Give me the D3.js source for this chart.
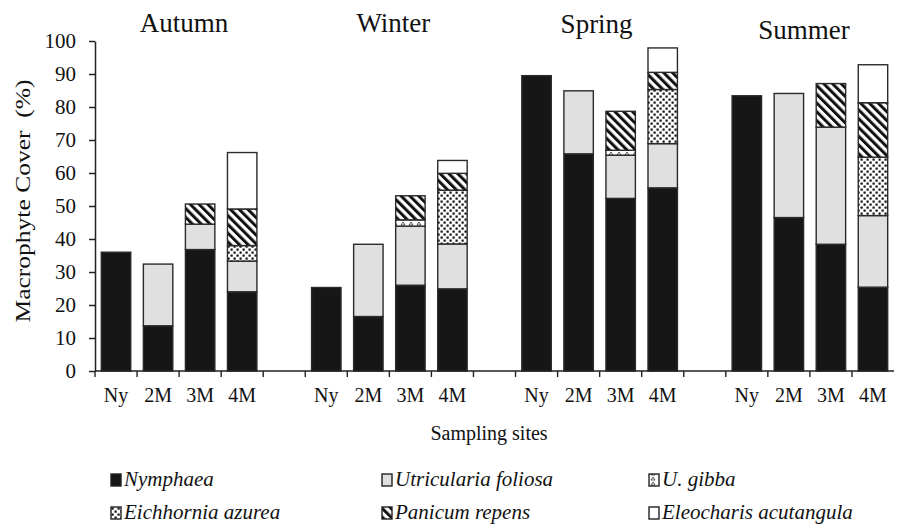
<!DOCTYPE html>
<html>
<head>
<meta charset="utf-8">
<script src="https://cdn.jsdelivr.net/npm/d3@7"></script>
<style>
  body { margin: 0; background: #fff; }
  text { font-family: "Liberation Serif", "Times New Roman", serif; fill: #111; }
</style>
</head>
<body>
<svg class="chart-frame"></svg>
<script>
// seasons and sampling sites; an empty slot separates each season
const seasons = ["Autumn", "Winter", "Spring", "Summer"];
const sites = ["Ny", "2M", "3M", "4M"];
const yTicks = [0, 10, 20, 30, 40, 50, 60, 70, 80, 90, 100];

// cover (%) per bar, order: Autumn Ny..4M, Winter Ny..4M, Spring Ny..4M, Summer Ny..4M
const nymphaea    = [36.0, 13.7, 36.8, 24.0, 25.3, 16.5, 26.0, 24.9, 89.5, 65.8, 52.3, 55.5, 83.4, 46.5, 38.4, 25.4];
const uFoliosa    = [0, 18.7, 7.7, 9.3, 0, 21.9, 17.9, 13.6, 0, 19.1, 13.1, 13.4, 0, 37.6, 35.5, 21.7];
const uGibba      = [0, 0, 0, 0, 0, 0, 1.9, 0, 0, 0, 1.5, 0, 0, 0, 0, 0];
const eichhornia  = [0, 0, 0, 4.7, 0, 0, 0, 16.3, 0, 0, 0, 16.4, 0, 0, 0, 17.7];
const panicum     = [0, 0, 6.1, 11.1, 0, 0, 7.3, 5.1, 0, 0, 11.8, 5.2, 0, 0, 13.2, 16.5];
const eleocharis  = [0, 0, 0, 17.1, 0, 0, 0, 3.9, 0, 0, 0, 7.4, 0, 0, 0, 11.5];

const speciesNames = ["Nymphaea", "Utricularia foliosa", "U. gibba", "Eichhornia azurea", "Panicum repens", "Eleocharis acutangula"];
const speciesKeys = ["nym", "ufo", "ugi", "eic", "pan", "ele"];
const speciesValues = [nymphaea, uFoliosa, uGibba, eichhornia, panicum, eleocharis];

const serif = '"Liberation Serif", "Times New Roman", serif';
const width = 897, height = 528;
const margin = {top: 41, right: 3, bottom: 157, left: 95};
const innerW = width - margin.left - margin.right;
const innerH = height - margin.top - margin.bottom;

const svg = d3.select(".chart-frame")
  .attr("width", width)
  .attr("height", height);

// fill patterns
const defs = svg.append("defs");
const stripes = defs.append("pattern")
  .attr("id", "pat-pan")
  .attr("patternUnits", "userSpaceOnUse")
  .attr("width", 6.2).attr("height", 6.2)
  .attr("patternTransform", "rotate(-45)");
stripes.append("rect").attr("width", 6.2).attr("height", 6.2).attr("fill", "#fff");
stripes.append("rect").attr("width", 3).attr("height", 6.2).attr("fill", "#111");

const dots = defs.append("pattern")
  .attr("id", "pat-eic")
  .attr("patternUnits", "userSpaceOnUse")
  .attr("width", 6).attr("height", 6);
dots.append("rect").attr("width", 6).attr("height", 6).attr("fill", "#fff");
dots.append("rect").attr("x", 0.5).attr("y", 0.5).attr("width", 2.2).attr("height", 2.2).attr("fill", "#111");
dots.append("rect").attr("x", 3.5).attr("y", 3.5).attr("width", 2.2).attr("height", 2.2).attr("fill", "#111");

const tri = defs.append("pattern")
  .attr("id", "pat-ugi")
  .attr("patternUnits", "userSpaceOnUse")
  .attr("width", 8).attr("height", 5);
tri.append("rect").attr("width", 8).attr("height", 5).attr("fill", "#fff");
tri.append("path").attr("d", "M2,4 L4,1 L6,4 Z").attr("fill", "none").attr("stroke", "#333").attr("stroke-width", 0.8);

const fills = {nym: "#161616", ufo: "#e0e0e0", ugi: "url(#pat-ugi)", eic: "url(#pat-eic)", pan: "url(#pat-pan)", ele: "#fff"};

// slots on the x axis
const slots = [];
seasons.forEach((s, i) => {
  sites.forEach(site => slots.push(s + "|" + site));
  if (i < seasons.length - 1) slots.push("gap" + i);
});

const rows = [];
seasons.forEach((s, i) => {
  sites.forEach((site, j) => {
    const k = i * sites.length + j;
    const row = {slot: s + "|" + site};
    speciesKeys.forEach((key, n) => row[key] = speciesValues[n][k]);
    rows.push(row);
  });
});

const xScale = d3.scaleBand()
  .domain(slots)
  .range([0, innerW])
  .paddingInner(0)
  .paddingOuter(0);

const yScale = d3.scaleLinear()
  .domain([0, 100])
  .range([innerH, 0]);

const graph = svg.append("g")
  .attr("transform", "translate(" + margin.left + "," + margin.top + ")");

const stack = d3.stack().keys(speciesKeys)(rows);
const barPad = 0.15 * xScale.bandwidth();

graph.selectAll("g.layer")
  .data(stack)
  .enter().append("g")
  .attr("class", "layer")
  .attr("fill", d => fills[d.key])
  .selectAll("rect")
  .data(d => d.filter(p => p[1] - p[0] > 0))
  .enter().append("rect")
  .attr("x", d => xScale(d.data.slot) + barPad)
  .attr("width", xScale.bandwidth() - 2 * barPad)
  .attr("y", d => yScale(d[1]))
  .attr("height", d => yScale(d[0]) - yScale(d[1]))
  .attr("stroke", "#2a2a2a")
  .attr("stroke-width", 1.4);

// y axis
const yAxis = d3.axisLeft(yScale).tickValues(yTicks).tickSize(6).tickSizeOuter(0).tickPadding(13);
const yG = graph.append("g").call(yAxis)
  .attr("font-family", serif);
yG.selectAll("text")
  .style("font-family", serif)
  .style("font-size", "21px")
  .attr("fill", "#111");
yG.selectAll("line, path").attr("stroke", "#222").attr("stroke-width", 1.5);

// x axis: baseline with ticks at slot boundaries
const xG = graph.append("g").attr("transform", "translate(0," + innerH + ")");
xG.append("line")
  .attr("x1", 0).attr("x2", innerW)
  .attr("stroke", "#222").attr("stroke-width", 1.5);
xG.selectAll("line.tick")
  .data(slots)
  .enter().append("line")
  .attr("class", "tick")
  .attr("x1", d => xScale(d)).attr("x2", d => xScale(d))
  .attr("y1", 0).attr("y2", 6)
  .attr("stroke", "#222").attr("stroke-width", 1.4);

xG.selectAll("text.site")
  .data(rows)
  .enter().append("text")
  .attr("class", "site")
  .attr("x", d => xScale(d.slot) + xScale.bandwidth() / 2)
  .attr("y", 31)
  .attr("text-anchor", "middle")
  .style("font-size", "20px")
  .text(d => d.slot.split("|")[1]);

// season titles
const titleShift = [5, 4, -3, -6];
const titleDrop = [0, 0, 1, 7];
graph.selectAll("text.season")
  .data(seasons)
  .enter().append("text")
  .attr("class", "season")
  .attr("x", (d, i) => (xScale(d + "|" + sites[1]) + xScale(d + "|" + sites[2]) + xScale.bandwidth()) / 2 + titleShift[i])
  .attr("y", (d, i) => -9 + titleDrop[i])
  .attr("text-anchor", "middle")
  .style("font-size", "27px")
  .text(d => d);

// axis titles
svg.append("text")
  .attr("x", 489)
  .attr("y", 440)
  .attr("text-anchor", "middle")
  .style("font-size", "20px")
  .text("Sampling sites");

svg.append("text")
  .attr("transform", "translate(30,201) rotate(-90)")
  .attr("text-anchor", "middle")
  .attr("textLength", 243)
  .attr("lengthAdjust", "spacingAndGlyphs")
  .style("font-size", "22px")
  .style("white-space", "pre")
  .text("Macrophyte Cover  (%)");

// legend
const legendX = [111, 382, 649];
const legendY = [486, 519];
const legend = svg.selectAll("g.legend")
  .data(speciesNames)
  .enter().append("g")
  .attr("class", "legend")
  .attr("transform", (d, i) => "translate(" + legendX[i % 3] + "," + legendY[Math.floor(i / 3)] + ")");

legend.append("rect")
  .attr("x", 0).attr("y", -12)
  .attr("width", 10).attr("height", 12)
  .attr("fill", (d, i) => fills[speciesKeys[i]])
  .attr("stroke", "#222")
  .attr("stroke-width", 1.4);

legend.append("text")
  .attr("x", 13)
  .attr("y", 0)
  .style("font-size", "21px")
  .style("font-style", "italic")
  .text(d => d);
</script>
</body>
</html>
